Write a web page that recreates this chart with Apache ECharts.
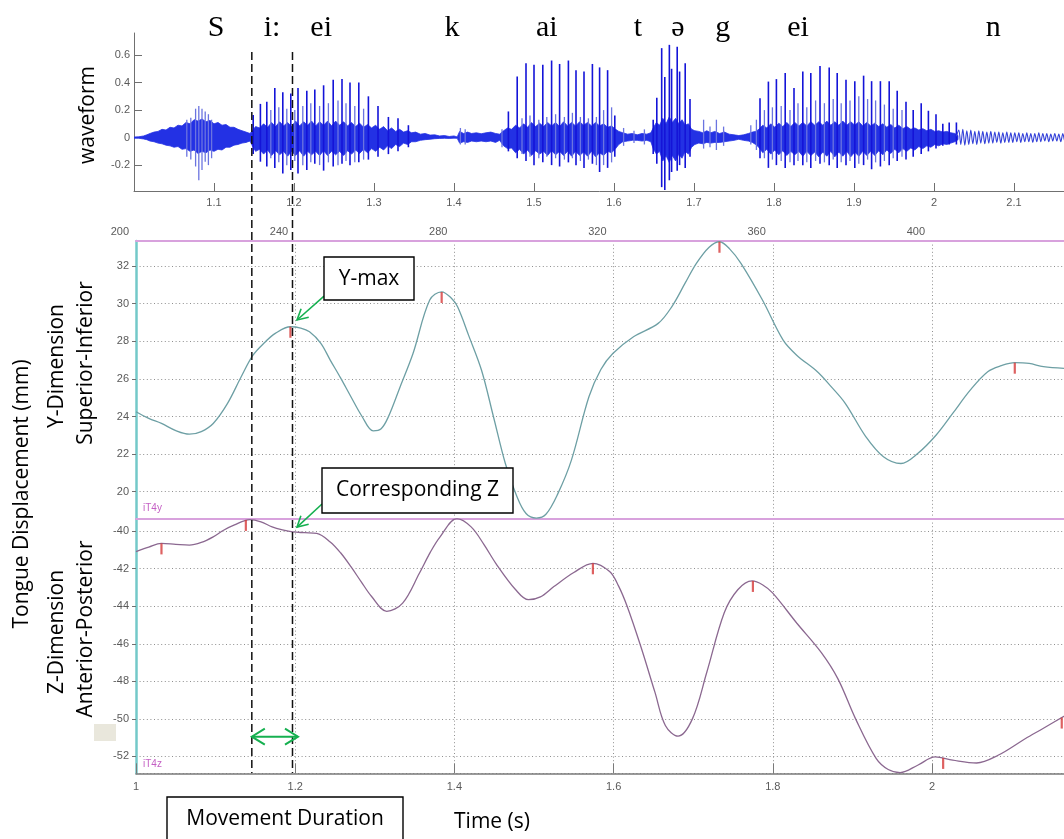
<!DOCTYPE html>
<html>
<head>
<meta charset="utf-8">
<title>Tongue displacement during an utterance</title>
<script src="https://cdn.jsdelivr.net/npm/echarts@6/dist/echarts.min.js"></script>
<style>
  html, body { margin: 0; padding: 0; background: #fff; }
  #chart { width: 1064px; height: 839px; }
</style>
</head>
<body>
<div id="chart"></div>
<script>
// ---- acoustic waveform (amplitude, s) ----
// dense part of the signal: [time, upper edge, lower edge]
const waveEnvelope = [
  [1.000, 0.004, -0.004], [1.006, 0.006, -0.005], [1.012, 0.012, -0.010], [1.016, 0.020, -0.015],
  [1.020, 0.030, -0.025], [1.025, 0.040, -0.030], [1.030, 0.045, -0.040], [1.035, 0.060, -0.045],
  [1.040, 0.055, -0.055], [1.045, 0.075, -0.060], [1.050, 0.070, -0.070], [1.055, 0.090, -0.065],
  [1.060, 0.085, -0.085], [1.065, 0.110, -0.080], [1.070, 0.100, -0.100], [1.075, 0.130, -0.090],
  [1.080, 0.120, -0.115], [1.085, 0.135, -0.100], [1.090, 0.115, -0.110], [1.095, 0.125, -0.090],
  [1.100, 0.100, -0.100], [1.105, 0.110, -0.085], [1.110, 0.090, -0.090], [1.115, 0.095, -0.070],
  [1.120, 0.075, -0.070], [1.125, 0.075, -0.055], [1.130, 0.060, -0.050], [1.135, 0.050, -0.040],
  [1.140, 0.040, -0.035], [1.145, 0.030, -0.025],
  [1.148, 0.050, -0.060], [1.152, 0.080, -0.100], [1.157, 0.070, -0.085], [1.162, 0.100, -0.120],
  [1.167, 0.075, -0.090], [1.172, 0.110, -0.130], [1.177, 0.080, -0.095], [1.182, 0.115, -0.125],
  [1.187, 0.085, -0.100], [1.192, 0.110, -0.135], [1.197, 0.080, -0.100], [1.202, 0.120, -0.130],
  [1.207, 0.085, -0.095], [1.212, 0.115, -0.135], [1.217, 0.090, -0.100], [1.222, 0.120, -0.125],
  [1.227, 0.085, -0.100], [1.232, 0.115, -0.130], [1.237, 0.090, -0.095], [1.242, 0.120, -0.130],
  [1.247, 0.085, -0.100], [1.252, 0.120, -0.125], [1.257, 0.090, -0.100], [1.262, 0.115, -0.130],
  [1.267, 0.085, -0.095], [1.272, 0.110, -0.120], [1.277, 0.080, -0.090], [1.282, 0.105, -0.115],
  [1.287, 0.075, -0.085], [1.292, 0.095, -0.110], [1.297, 0.070, -0.080], [1.302, 0.090, -0.100],
  [1.307, 0.060, -0.070], [1.312, 0.080, -0.090], [1.317, 0.050, -0.060], [1.322, 0.070, -0.080],
  [1.327, 0.045, -0.050], [1.332, 0.060, -0.065], [1.337, 0.040, -0.040], [1.342, 0.050, -0.050],
  [1.347, 0.035, -0.030], [1.352, 0.040, -0.030], [1.358, 0.025, -0.020], [1.364, 0.030, -0.015],
  [1.370, 0.018, -0.012], [1.376, 0.020, -0.008], [1.382, 0.012, -0.006], [1.388, 0.015, -0.005],
  [1.394, 0.008, -0.006], [1.400, 0.012, -0.004], [1.404, 0.005, -0.005],
  [1.407, 0.045, -0.040], [1.412, 0.030, -0.030], [1.417, 0.040, -0.035], [1.422, 0.030, -0.025],
  [1.428, 0.035, -0.030], [1.434, 0.028, -0.025], [1.440, 0.035, -0.030], [1.446, 0.040, -0.025],
  [1.452, 0.030, -0.035], [1.457, 0.025, -0.020],
  [1.462, 0.050, -0.060], [1.467, 0.070, -0.080], [1.472, 0.060, -0.075], [1.477, 0.090, -0.110],
  [1.482, 0.070, -0.085], [1.487, 0.100, -0.120], [1.492, 0.075, -0.090], [1.497, 0.110, -0.130],
  [1.502, 0.080, -0.095], [1.507, 0.105, -0.120], [1.512, 0.080, -0.100], [1.517, 0.110, -0.130],
  [1.522, 0.085, -0.095], [1.527, 0.110, -0.125], [1.532, 0.080, -0.100], [1.537, 0.115, -0.130],
  [1.542, 0.085, -0.100], [1.547, 0.110, -0.135], [1.552, 0.085, -0.100], [1.557, 0.115, -0.130],
  [1.562, 0.090, -0.105], [1.567, 0.110, -0.135], [1.572, 0.085, -0.100], [1.577, 0.110, -0.140],
  [1.582, 0.085, -0.110], [1.587, 0.100, -0.130], [1.592, 0.075, -0.100], [1.597, 0.085, -0.110],
  [1.602, 0.060, -0.080], [1.606, 0.045, -0.050],
  [1.611, 0.035, -0.030], [1.617, 0.025, -0.025], [1.623, 0.030, -0.020], [1.629, 0.020, -0.020],
  [1.635, 0.030, -0.025], [1.641, 0.025, -0.020], [1.646, 0.035, -0.030],
  [1.649, 0.070, -0.080], [1.653, 0.110, -0.120], [1.657, 0.090, -0.100], [1.661, 0.140, -0.170],
  [1.665, 0.100, -0.130], [1.669, 0.150, -0.180], [1.673, 0.110, -0.130], [1.677, 0.140, -0.170],
  [1.681, 0.100, -0.120], [1.685, 0.130, -0.150], [1.689, 0.090, -0.100], [1.693, 0.100, -0.120],
  [1.697, 0.060, -0.070], [1.701, 0.050, -0.050],
  [1.706, 0.045, -0.040], [1.711, 0.035, -0.045], [1.716, 0.050, -0.035], [1.721, 0.035, -0.040],
  [1.726, 0.045, -0.035], [1.732, 0.030, -0.035], [1.738, 0.040, -0.030], [1.744, 0.025, -0.025],
  [1.750, 0.020, -0.020], [1.756, 0.015, -0.012], [1.762, 0.020, -0.020], [1.768, 0.030, -0.025],
  [1.773, 0.040, -0.035], [1.777, 0.045, -0.050],
  [1.781, 0.060, -0.070], [1.786, 0.090, -0.110], [1.791, 0.070, -0.085], [1.796, 0.100, -0.120],
  [1.801, 0.075, -0.090], [1.806, 0.105, -0.125], [1.811, 0.080, -0.095], [1.816, 0.110, -0.130],
  [1.821, 0.080, -0.100], [1.826, 0.110, -0.125], [1.831, 0.085, -0.100], [1.836, 0.110, -0.135],
  [1.841, 0.085, -0.100], [1.846, 0.115, -0.130], [1.851, 0.090, -0.105], [1.856, 0.115, -0.140],
  [1.861, 0.090, -0.105], [1.866, 0.120, -0.135], [1.871, 0.090, -0.100], [1.876, 0.115, -0.140],
  [1.881, 0.090, -0.105], [1.886, 0.120, -0.135], [1.891, 0.090, -0.100], [1.896, 0.115, -0.140],
  [1.901, 0.090, -0.105], [1.906, 0.115, -0.135], [1.911, 0.085, -0.100], [1.916, 0.110, -0.130],
  [1.921, 0.085, -0.100], [1.926, 0.105, -0.130], [1.931, 0.080, -0.095], [1.936, 0.100, -0.125],
  [1.941, 0.075, -0.090], [1.946, 0.095, -0.115], [1.951, 0.070, -0.085], [1.956, 0.090, -0.110],
  [1.961, 0.065, -0.080], [1.966, 0.080, -0.100], [1.971, 0.060, -0.075], [1.976, 0.070, -0.090],
  [1.981, 0.055, -0.065], [1.986, 0.065, -0.080], [1.991, 0.050, -0.060], [1.996, 0.060, -0.070],
  [2.001, 0.045, -0.050], [2.006, 0.050, -0.060], [2.011, 0.040, -0.045], [2.016, 0.045, -0.050],
  [2.021, 0.035, -0.040], [2.026, 0.030, -0.030], [2.030, 0.015, -0.015]
];

// glottal pulses: [time, peak, trough]
const glottalPulses = [
  [1.149, 0.165, -0.12], [1.158, 0.245, -0.175], [1.166, 0.26, -0.21], [1.176, 0.36, -0.22],
  [1.186, 0.33, -0.26], [1.196, 0.32, -0.235], [1.205, 0.36, -0.26], [1.216, 0.34, -0.235],
  [1.226, 0.35, -0.19], [1.237, 0.38, -0.24], [1.249, 0.42, -0.21], [1.260, 0.425, -0.19],
  [1.270, 0.40, -0.20], [1.281, 0.40, -0.18], [1.293, 0.30, -0.16], [1.305, 0.23, -0.14],
  [1.318, 0.15, -0.12], [1.330, 0.14, -0.10], [1.343, 0.09, -0.07],
  [1.468, 0.19, -0.10], [1.479, 0.444, -0.15], [1.490, 0.54, -0.17], [1.500, 0.53, -0.20],
  [1.511, 0.53, -0.18], [1.522, 0.56, -0.20], [1.532, 0.535, -0.21], [1.543, 0.56, -0.18],
  [1.5525, 0.49, -0.20], [1.5625, 0.48, -0.22], [1.573, 0.535, -0.19], [1.582, 0.51, -0.25],
  [1.592, 0.49, -0.22], [1.601, 0.16, -0.14],
  [1.649, 0.13, -0.12], [1.6535, 0.29, -0.19], [1.6596, 0.65, -0.36], [1.6635, 0.44, -0.38],
  [1.6692, 0.674, -0.31], [1.672, 0.50, -0.25], [1.679, 0.66, -0.24], [1.682, 0.48, -0.20],
  [1.689, 0.54, -0.22], [1.695, 0.28, -0.14],
  [1.7825, 0.285, -0.15], [1.793, 0.407, -0.22], [1.803, 0.425, -0.20], [1.814, 0.47, -0.22],
  [1.825, 0.36, -0.20], [1.836, 0.48, -0.20], [1.846, 0.47, -0.22], [1.8575, 0.52, -0.19],
  [1.869, 0.51, -0.20], [1.879, 0.47, -0.22], [1.890, 0.42, -0.20], [1.901, 0.41, -0.22],
  [1.912, 0.45, -0.20], [1.922, 0.41, -0.23], [1.933, 0.41, -0.21], [1.944, 0.41, -0.20],
  [1.954, 0.34, -0.17], [1.965, 0.26, -0.16], [1.974, 0.20, -0.14], [1.984, 0.25, -0.12],
  [1.993, 0.195, -0.10], [2.0025, 0.17, -0.08], [2.011, 0.10, -0.06], [2.019, 0.11, -0.05],
  [2.028, 0.11, -0.05]
];

// fricative bursts and weaker secondary excitations: [time, peak, trough]
const minorPulses = [
  [1.066, 0.13, -0.14], [1.071, 0.145, -0.16], [1.077, 0.21, -0.21], [1.081, 0.23, -0.31],
  [1.085, 0.21, -0.235], [1.089, 0.19, -0.175], [1.093, 0.17, -0.20], [1.097, 0.13, -0.15],
  [1.171, 0.20, -0.15], [1.181, 0.22, -0.18], [1.191, 0.21, -0.20], [1.201, 0.20, -0.17],
  [1.211, 0.23, -0.20], [1.221, 0.25, -0.18], [1.232, 0.23, -0.20], [1.243, 0.25, -0.18],
  [1.255, 0.27, -0.20], [1.265, 0.25, -0.17], [1.276, 0.23, -0.18], [1.287, 0.21, -0.16],
  [1.408, 0.07, -0.05], [1.414, 0.06, -0.05], [1.460, 0.06, -0.07],
  [1.485, 0.14, -0.12], [1.495, 0.16, -0.14], [1.506, 0.13, -0.15], [1.516, 0.15, -0.14],
  [1.527, 0.17, -0.15], [1.538, 0.15, -0.16], [1.548, 0.18, -0.15], [1.558, 0.15, -0.17],
  [1.568, 0.14, -0.16], [1.578, 0.15, -0.20], [1.587, 0.20, -0.20], [1.597, 0.22, -0.18],
  [1.612, 0.07, -0.06], [1.625, 0.05, -0.04], [1.638, 0.06, -0.05],
  [1.712, 0.13, -0.08], [1.720, 0.08, -0.07], [1.728, 0.13, -0.09], [1.737, 0.08, -0.06],
  [1.771, 0.09, -0.05], [1.778, 0.13, -0.09],
  [1.788, 0.20, -0.15], [1.798, 0.22, -0.16], [1.809, 0.23, -0.17], [1.820, 0.20, -0.18],
  [1.830, 0.25, -0.17], [1.841, 0.22, -0.18], [1.852, 0.27, -0.17], [1.863, 0.25, -0.18],
  [1.874, 0.28, -0.16], [1.884, 0.25, -0.18], [1.895, 0.27, -0.17], [1.906, 0.30, -0.19],
  [1.917, 0.28, -0.16], [1.927, 0.27, -0.18], [1.938, 0.24, -0.17], [1.949, 0.21, -0.15],
  [1.960, 0.20, -0.14]
];

// nasal murmur at the end of the utterance: [time, amplitude]
const nasalWave = [
  [2.028, 0.01], [2.031, 0.055], [2.0335, -0.05], [2.036, 0.06], [2.0385, -0.055], [2.041, 0.05],
  [2.0435, -0.05], [2.046, 0.055], [2.0485, -0.045], [2.051, 0.045], [2.0535, -0.05], [2.056, 0.05],
  [2.0585, -0.04], [2.061, 0.045], [2.0635, -0.045], [2.066, 0.04], [2.0685, -0.04], [2.071, 0.045],
  [2.0735, -0.04], [2.076, 0.04], [2.0785, -0.035], [2.081, 0.04], [2.0835, -0.04], [2.086, 0.035],
  [2.0885, -0.035], [2.091, 0.04], [2.0935, -0.035], [2.096, 0.035], [2.0985, -0.035], [2.101, 0.035],
  [2.1035, -0.03], [2.106, 0.035], [2.1085, -0.035], [2.111, 0.03], [2.1135, -0.03], [2.116, 0.035],
  [2.1185, -0.03], [2.121, 0.03], [2.1235, -0.035], [2.126, 0.03], [2.1285, -0.03], [2.131, 0.035],
  [2.1335, -0.03], [2.136, 0.03], [2.1385, -0.025], [2.141, 0.03], [2.1435, -0.03], [2.146, 0.025],
  [2.1485, -0.025], [2.151, 0.03], [2.1535, -0.025], [2.156, 0.025], [2.1585, -0.03], [2.161, 0.03],
  [2.1635, -0.025], [2.166, 0.025]
];

// phonetic transcription and where each segment sits in time
const phonemes     = ['S', 'i:', 'ei', 'k', 'ai', 't', 'ə', 'g', 'ei', 'n'];
const phonemeTimes = [1.1025, 1.1725, 1.234, 1.3975, 1.516, 1.63, 1.68, 1.736, 1.83, 2.074];

// ---- sensor iT4: vertical (Y) and front-back (Z) position, mm ----
const yTrack = [
  [1.000, 24.25], [1.016, 23.90], [1.032, 23.63], [1.050, 23.25], [1.067, 23.06], [1.082, 23.20],
  [1.097, 23.63], [1.115, 24.70], [1.132, 26.10], [1.147, 27.26], [1.162, 27.95], [1.175, 28.42],
  [1.194, 28.77], [1.207, 28.70], [1.218, 28.50], [1.232, 27.90], [1.244, 27.00], [1.257, 26.05],
  [1.270, 25.05], [1.284, 24.00], [1.298, 23.24], [1.308, 23.35], [1.317, 23.98], [1.332, 25.60],
  [1.348, 27.35], [1.369, 30.19], [1.384, 30.63], [1.396, 30.30], [1.404, 29.83], [1.418, 28.30],
  [1.434, 26.47], [1.449, 24.00], [1.464, 21.50], [1.478, 19.80], [1.490, 18.84], [1.503, 18.60],
  [1.515, 18.80], [1.530, 19.90], [1.547, 21.68], [1.569, 25.05], [1.584, 26.50], [1.599, 27.35],
  [1.625, 28.24], [1.656, 28.95], [1.673, 29.83], [1.690, 31.10], [1.704, 32.14], [1.720, 33.00],
  [1.733, 33.29], [1.746, 32.90], [1.760, 32.14], [1.787, 30.19], [1.813, 28.06], [1.830, 27.26],
  [1.856, 26.38], [1.873, 25.60], [1.891, 24.70], [1.917, 22.92], [1.939, 21.86], [1.961, 21.50],
  [1.982, 22.03], [2.005, 23.00], [2.026, 24.16], [2.048, 25.40], [2.070, 26.38], [2.087, 26.70],
  [2.104, 26.86], [2.122, 26.82], [2.140, 26.65], [2.170, 26.55]
];
const zTrack = [
  [1.000, -41.09], [1.016, -40.85], [1.032, -40.65], [1.050, -40.70], [1.067, -40.74], [1.082, -40.60],
  [1.097, -40.30], [1.110, -39.95], [1.123, -39.68], [1.143, -39.38], [1.157, -39.50], [1.171, -39.77],
  [1.184, -39.93], [1.197, -40.04], [1.212, -40.08], [1.227, -40.12], [1.244, -40.57], [1.257, -41.15],
  [1.270, -41.89], [1.283, -42.70], [1.296, -43.48], [1.315, -44.27], [1.335, -43.83], [1.356, -42.24],
  [1.370, -41.10], [1.382, -40.30], [1.403, -39.33], [1.421, -39.77], [1.437, -40.70], [1.452, -41.71],
  [1.477, -43.12], [1.493, -43.65], [1.508, -43.50], [1.525, -42.95], [1.550, -42.20], [1.574, -41.71],
  [1.595, -42.15], [1.606, -42.90], [1.617, -44.00], [1.634, -46.12], [1.652, -48.59], [1.665, -50.35],
  [1.681, -50.92], [1.699, -50.00], [1.717, -47.53], [1.739, -44.35], [1.756, -43.12], [1.774, -42.65],
  [1.787, -42.85], [1.800, -43.30], [1.830, -44.89], [1.861, -46.47], [1.882, -47.88], [1.904, -50.00],
  [1.930, -52.12], [1.945, -52.70], [1.960, -52.86], [1.982, -52.47], [2.004, -52.03], [2.026, -52.20],
  [2.056, -52.35], [2.083, -51.94], [2.117, -51.06], [2.140, -50.50], [2.170, -49.75]
];

// extrema picked on each track
const yLandmarks = [[1.194, 28.77], [1.384, 30.62], [1.733, 33.29], [2.104, 26.86]];
const zLandmarks = [[1.032, -40.65], [1.138, -39.40], [1.404, -39.33], [1.574, -41.71],
                    [1.775, -42.65], [2.014, -52.08], [2.163, -49.93]];

// start and end of the measured movement (s)
const movementBounds = [1.1455, 1.1966];
// pointers: [tail time, tail value, tip time, tip value]
const yMaxPointer = [1.2362, 30.40, 1.2023, 29.13];
const zPointer    = [1.2337, -38.55, 1.2023, -39.78];
// duration marker: [from, to, level on the Z scale]
const durationSpan = [1.1455, 1.2035, -50.95];

// ---- axis ranges ----
const timeRange  = [1.0, 2.2];
const frameRange = [200, 440];
const waveRange  = [-0.388, 0.76];
const yRange     = [18.55, 33.33];
const zRange     = [-52.9, -39.35];

const chart = echarts.init(document.getElementById('chart'), null, { renderer: 'canvas' });

const tickFont = 'Liberation Sans';
const labelFont = '"Open Sans"';
const grey = '#5a5a5a';
const magenta = '#d8a2dd';
const teal = '#73c9c9';
const green = '#16b050';
const dotted = { show: true, lineStyle: { color: '#8f8f8f', width: 1, type: [1, 2.6] } };

function arrowArms(tip, tail, len, spread) {
  const a = Math.atan2(tail[1] - tip[1], tail[0] - tip[0]);
  return [a - spread, a + spread].map(function (b) {
    return [tip[0] + len * Math.cos(b), tip[1] + len * Math.sin(b)];
  });
}
function pointerShape(tail, tip) {
  const arms = arrowArms(tip, tail, 12, 0.5);
  const st = { stroke: green, lineWidth: 1.6, fill: null };
  return {
    type: 'group',
    children: [
      { type: 'line', shape: { x1: tail[0], y1: tail[1], x2: tip[0], y2: tip[1] }, style: st },
      { type: 'polyline', shape: { points: [arms[0], tip, arms[1]] }, style: st }
    ]
  };
}

function rotatedLabel(text, x, y) {
  return {
    type: 'text', x: x, y: y, rotation: Math.PI / 2, z: 100,
    style: { text: text, font: '21px ' + labelFont, fill: '#000',
             align: 'center', verticalAlign: 'middle', textAlign: 'center', textVerticalAlign: 'middle' }
  };
}
function boxedLabel(text, x, y, w, h) {
  return {
    type: 'group', z: 100,
    children: [
      { type: 'rect', z: 100, shape: { x: x, y: y, width: w, height: h },
        style: { fill: '#fff', stroke: '#000', lineWidth: 1.4 } },
      { type: 'text', z: 101, x: x + w / 2, y: y + Math.min(h, 43) / 2 + 1,
        style: { text: text, font: '21px ' + labelFont, fill: '#000',
                 align: 'center', verticalAlign: 'middle', textAlign: 'center', textVerticalAlign: 'middle' } }
    ]
  };
}

const gridBase = { outerBoundsMode: 'none', containLabel: false };

const option = {
  animation: false,
  backgroundColor: '#fff',
  grid: [
    Object.assign({ left: 134, top: 33, width: 960, height: 158 }, gridBase),        // waveform
    Object.assign({ left: 136, top: 241, width: 955.2, height: 278 }, gridBase),     // Y dimension
    Object.assign({ left: 136, top: 519, width: 955.2, height: 254.3 }, gridBase),   // Z dimension
    Object.assign({ left: 136, top: 52, width: 955.2, height: 721 }, gridBase)       // movement boundaries
  ],
  xAxis: [
    { gridIndex: 0, type: 'value', min: timeRange[0], max: timeRange[1], interval: 0.1,
      axisLine: { onZero: false, lineStyle: { color: '#707070', width: 1 } },
      axisTick: { inside: true, length: 8, lineStyle: { color: '#707070' } },
      axisLabel: { color: grey, fontSize: 11, fontFamily: tickFont, margin: 6,
                   formatter: function (v) { return Math.abs(v - 1) < 1e-9 ? '' : String(+v.toFixed(1)); } },
      splitLine: { show: false } },
    { gridIndex: 1, type: 'value', min: timeRange[0], max: timeRange[1], show: false },
    { gridIndex: 1, type: 'value', position: 'top', min: frameRange[0], max: frameRange[1], interval: 40,
      axisLine: { onZero: false, lineStyle: { color: magenta, width: 2 } },
      axisTick: { show: false },
      axisLabel: { color: grey, fontSize: 11, fontFamily: tickFont, margin: 4, align: 'right', padding: [0, 7, 0, 0] },
      splitLine: dotted },
    { gridIndex: 2, type: 'value', position: 'bottom', min: timeRange[0], max: timeRange[1], interval: 0.2,
      axisLine: { onZero: false, lineStyle: { color: '#7a7a7a', width: 1.5 } },
      axisTick: { inside: true, length: 10, lineStyle: { color: '#7a7a7a' } },
      axisLabel: { color: grey, fontSize: 11, fontFamily: tickFont, margin: 8,
                   formatter: function (v) { return String(+v.toFixed(1)); } },
      splitLine: dotted },
    { gridIndex: 2, type: 'value', position: 'top', min: timeRange[0], max: timeRange[1],
      axisLine: { onZero: false, lineStyle: { color: magenta, width: 2 } },
      axisTick: { show: false }, axisLabel: { show: false }, splitLine: { show: false } },
    { gridIndex: 3, type: 'value', min: timeRange[0], max: timeRange[1], show: false }
  ],
  yAxis: [
    { gridIndex: 0, type: 'value', min: waveRange[0], max: waveRange[1], splitNumber: 6,
      axisLine: { show: true, onZero: false, lineStyle: { color: '#707070', width: 1 } },
      axisTick: { show: true, inside: true, length: 8, lineStyle: { color: '#707070' } },
      axisLabel: { color: grey, fontSize: 11, fontFamily: tickFont, margin: 4,
                   showMinLabel: false, showMaxLabel: false },
      splitLine: { show: false } },
    { gridIndex: 1, type: 'value', min: yRange[0], max: yRange[1], splitNumber: 7,
      axisLine: { show: true, onZero: false, lineStyle: { color: teal, width: 2.5 } },
      axisTick: { show: true, length: 4, lineStyle: { color: '#707070' } },
      axisLabel: { color: grey, fontSize: 11, fontFamily: tickFont, margin: 7,
                   showMinLabel: false, showMaxLabel: false },
      splitLine: dotted },
    { gridIndex: 2, type: 'value', min: zRange[0], max: zRange[1], splitNumber: 7,
      axisLine: { show: true, onZero: false, lineStyle: { color: teal, width: 2.5 } },
      axisTick: { show: true, length: 4, lineStyle: { color: '#707070' } },
      axisLabel: { color: grey, fontSize: 11, fontFamily: tickFont, margin: 7,
                   showMinLabel: false, showMaxLabel: false },
      splitLine: dotted },
    { gridIndex: 3, type: 'value', min: 0, max: 1, show: false }
  ],
  series: [
    { // dense core of the waveform
      type: 'custom', xAxisIndex: 0, yAxisIndex: 0, z: 3, clip: true,
      data: [[timeRange[0], 0]],
      renderItem: function (params, api) {
        const pts = waveEnvelope.map(function (r) { return api.coord([r[0], r[1]]); });
        for (let i = waveEnvelope.length - 1; i >= 0; i--) {
          pts.push(api.coord([waveEnvelope[i][0], waveEnvelope[i][2]]));
        }
        return { type: 'polygon', shape: { points: pts },
                 style: { fill: '#2331e4', stroke: '#2331e4', lineWidth: 0.8 } };
      }
    },
    { // weaker excitations
      type: 'custom', xAxisIndex: 0, yAxisIndex: 0, z: 4,
      data: minorPulses, encode: { x: 0, y: [1, 2] },
      renderItem: function (params, api) {
        const a = api.coord([api.value(0), api.value(1)]);
        const b = api.coord([api.value(0), api.value(2)]);
        return { type: 'line', shape: { x1: a[0], y1: a[1], x2: b[0], y2: b[1] },
                 style: { stroke: '#6b74e0', lineWidth: 1.3 } };
      }
    },
    { // glottal pulses
      type: 'custom', xAxisIndex: 0, yAxisIndex: 0, z: 5,
      data: glottalPulses, encode: { x: 0, y: [1, 2] },
      renderItem: function (params, api) {
        const a = api.coord([api.value(0), api.value(1)]);
        const b = api.coord([api.value(0), api.value(2)]);
        return { type: 'line', shape: { x1: a[0], y1: a[1], x2: b[0], y2: b[1] },
                 style: { stroke: '#1414d8', lineWidth: 1.6 } };
      }
    },
    { // nasal murmur
      type: 'line', xAxisIndex: 0, yAxisIndex: 0, z: 5, data: nasalWave,
      showSymbol: false, symbol: 'none', smooth: 0.3,
      lineStyle: { color: '#3340d8', width: 1.1 }
    },
    { // transcription above the waveform
      type: 'custom', xAxisIndex: 0, yAxisIndex: 0, z: 6, clip: false,
      data: phonemeTimes.map(function (t) { return [t, waveRange[1]]; }),
      renderItem: function (params, api) {
        const p = api.coord([api.value(0), api.value(1)]);
        return { type: 'text', x: p[0], y: p[1] - 5,
                 style: { text: phonemes[params.dataIndex], font: '30px "Liberation Serif"', fill: '#000',
                          align: 'center', verticalAlign: 'middle', textAlign: 'center', textVerticalAlign: 'middle' } };
      }
    },
    { // Y track
      type: 'line', xAxisIndex: 1, yAxisIndex: 1, z: 4, data: yTrack,
      showSymbol: false, symbol: 'none', smooth: 0.35,
      lineStyle: { color: '#6d9fa4', width: 1.3 }
    },
    {
      type: 'scatter', xAxisIndex: 1, yAxisIndex: 1, z: 5, data: yLandmarks,
      symbol: 'rect', symbolSize: [2.2, 11], symbolOffset: [0, 5.5],
      itemStyle: { color: '#d63a3a' }
    },
    { // Z track
      type: 'line', xAxisIndex: 3, yAxisIndex: 2, z: 4, data: zTrack,
      showSymbol: false, symbol: 'none', smooth: 0.35,
      lineStyle: { color: '#8b6890', width: 1.3 }
    },
    {
      type: 'scatter', xAxisIndex: 3, yAxisIndex: 2, z: 5, data: zLandmarks,
      symbol: 'rect', symbolSize: [2.2, 11], symbolOffset: [0, 5.5],
      itemStyle: { color: '#d63a3a' }
    },
    { // movement boundaries across all panels
      type: 'custom', xAxisIndex: 5, yAxisIndex: 3, z: 20, clip: false,
      data: movementBounds.map(function (t) { return [t, 0]; }),
      renderItem: function (params, api) {
        const top = api.coord([api.value(0), 1]);
        const bot = api.coord([api.value(0), 0]);
        return { type: 'line', shape: { x1: top[0], y1: top[1], x2: bot[0], y2: bot[1] },
                 style: { stroke: '#111', lineWidth: 1.5, lineDash: [8, 4] } };
      }
    },
    { // pointer to the Y maximum
      type: 'custom', xAxisIndex: 1, yAxisIndex: 1, z: 30, clip: false,
      data: [yMaxPointer], encode: { x: [0, 2], y: [1, 3] },
      renderItem: function (params, api) {
        return pointerShape(api.coord([api.value(0), api.value(1)]), api.coord([api.value(2), api.value(3)]));
      }
    },
    { // pointer to the corresponding Z value
      type: 'custom', xAxisIndex: 3, yAxisIndex: 2, z: 30, clip: false,
      data: [zPointer], encode: { x: [0, 2], y: [1, 3] },
      renderItem: function (params, api) {
        return pointerShape(api.coord([api.value(0), api.value(1)]), api.coord([api.value(2), api.value(3)]));
      }
    },
    { // movement duration
      type: 'custom', xAxisIndex: 3, yAxisIndex: 2, z: 30, clip: false,
      data: [durationSpan], encode: { x: [0, 1], y: 2 },
      renderItem: function (params, api) {
        const a = api.coord([api.value(0), api.value(2)]);
        const b = api.coord([api.value(1), api.value(2)]);
        const st = { stroke: green, lineWidth: 2, fill: null };
        return {
          type: 'group',
          children: [
            { type: 'line', shape: { x1: a[0], y1: a[1], x2: b[0], y2: b[1] }, style: st },
            { type: 'polyline', shape: { points: [[a[0] + 13, a[1] - 8], a, [a[0] + 13, a[1] + 8]] }, style: st },
            { type: 'polyline', shape: { points: [[b[0] - 13, b[1] - 8], b, [b[0] - 13, b[1] + 8]] }, style: st }
          ]
        };
      }
    }
  ],
  graphic: [
    rotatedLabel('waveform', 88, 115),
    rotatedLabel('Tongue Displacement (mm)', 22, 494),
    rotatedLabel('Y-Dimension', 57, 366),
    rotatedLabel('Superior-Inferior', 86, 363),
    rotatedLabel('Z-Dimension', 57, 632),
    rotatedLabel('Anterior-Posterior', 86, 629),
    boxedLabel('Y-max', 324, 257, 90, 43),
    boxedLabel('Corresponding Z', 322, 468, 191, 45),
    boxedLabel('Movement Duration', 167, 797, 236, 60),
    { type: 'text', x: 492, y: 822, z: 100,
      style: { text: 'Time (s)', font: '21px ' + labelFont, fill: '#000',
               align: 'center', verticalAlign: 'middle', textAlign: 'center', textVerticalAlign: 'middle' } },
    { type: 'text', x: 143, y: 508, z: 100,
      style: { text: 'iT4y', font: '10px ' + tickFont, fill: '#c45fc4', verticalAlign: 'middle', textVerticalAlign: 'middle' } },
    { type: 'text', x: 143, y: 764, z: 100,
      style: { text: 'iT4z', font: '10px ' + tickFont, fill: '#c45fc4', verticalAlign: 'middle', textVerticalAlign: 'middle' } },
    { type: 'rect', z: 100, shape: { x: 94, y: 724, width: 22, height: 17 }, style: { fill: '#e9e7dc' } }
  ]
};

chart.setOption(option);
</script>
</body>
</html>
